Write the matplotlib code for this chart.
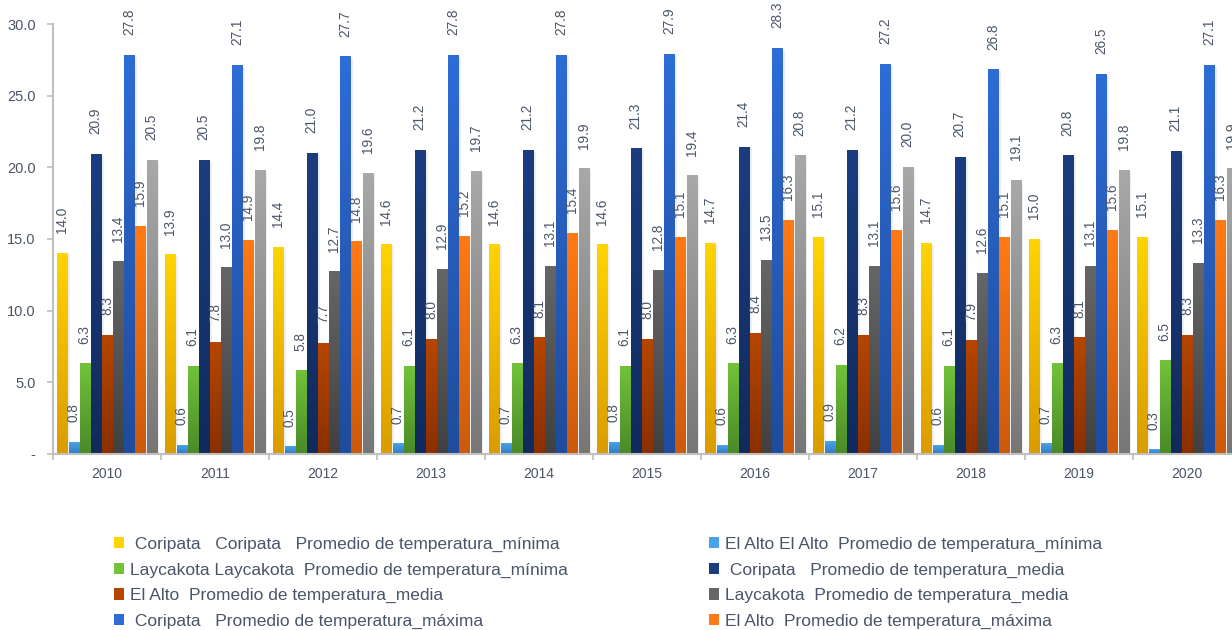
import numpy as np
import matplotlib.pyplot as plt
from matplotlib.colors import LinearSegmentedColormap
from matplotlib.patches import Rectangle
from matplotlib import patheffects as pe

years = ['2010', '2011', '2012', '2013', '2014', '2015', '2016', '2017', '2018', '2019', '2020']

coripata_min = [14.0, 13.9, 14.4, 14.6, 14.6, 14.6, 14.7, 15.1, 14.7, 15.0, 15.1]
elalto_min = [0.8, 0.6, 0.5, 0.7, 0.7, 0.8, 0.6, 0.9, 0.6, 0.7, 0.3]
laycakota_min = [6.3, 6.1, 5.8, 6.1, 6.3, 6.1, 6.3, 6.2, 6.1, 6.3, 6.5]
coripata_med = [20.9, 20.5, 21.0, 21.2, 21.2, 21.3, 21.4, 21.2, 20.7, 20.8, 21.1]
elalto_med = [8.3, 7.8, 7.7, 8.0, 8.1, 8.0, 8.4, 8.3, 7.9, 8.1, 8.3]
laycakota_med = [13.4, 13.0, 12.7, 12.9, 13.1, 12.8, 13.5, 13.1, 12.6, 13.1, 13.3]
coripata_max = [27.8, 27.1, 27.7, 27.8, 27.8, 27.9, 28.3, 27.2, 26.8, 26.5, 27.1]
elalto_max = [15.9, 14.9, 14.8, 15.2, 15.4, 15.1, 16.3, 15.6, 15.1, 15.6, 16.3]
laycakota_max = [20.5, 19.8, 19.6, 19.7, 19.9, 19.4, 20.8, 20.0, 19.1, 19.8, 19.9]

labels = [
    ' Coripata   Coripata   Promedio de temperatura_mínima',
    'El Alto El Alto  Promedio de temperatura_mínima',
    'Laycakota Laycakota  Promedio de temperatura_mínima',
    ' Coripata   Promedio de temperatura_media',
    'El Alto  Promedio de temperatura_media',
    'Laycakota  Promedio de temperatura_media',
    ' Coripata   Promedio de temperatura_máxima',
    'El Alto  Promedio de temperatura_máxima',
    'Laycakota  Promedio de temperatura_máxima',
]
series = [coripata_min, elalto_min, laycakota_min, coripata_med, elalto_med,
          laycakota_med, coripata_max, elalto_max, laycakota_max]

# (top colour, bottom colour) for each series gradient
colors = [
    ('#FFD400', '#DA9C00'),
    ('#4AA3E8', '#3478C0'),
    ('#72C23A', '#4A8A28'),
    ('#1B3D80', '#102A5C'),
    ('#B54600', '#8A3000'),
    ('#666666', '#414141'),
    ('#2E6CD6', '#1F4C9C'),
    ('#FF7A14', '#CC5A0C'),
    ('#A8A8A8', '#777777'),
]

text_col = '#4A5568'
plt.rcParams['font.family'] = ['Liberation Sans', 'DejaVu Sans']

fig = plt.figure(figsize=(12.32, 6.30), dpi=100)
ax = fig.add_axes([53 / 1232, 1 - 454 / 630, 1 - 53 / 1232, 430 / 630])

slot = 11.15 / 108
width = 10.1 / 108
x = np.arange(len(years))

for j, vals in enumerate(series):
    top, bottom = colors[j]
    cmap = LinearSegmentedColormap.from_list('g%d' % j, [bottom, top])
    grad = np.linspace(0, 1, 64).reshape(-1, 1)
    for i, v in enumerate(vals):
        xc = x[i] + (j - 4) * slot
        x0 = xc - width / 2
        # soft drop shadow under each bar
        shadow = Rectangle((x0, 0), width, v, facecolor='white', edgecolor='none', zorder=1,
                           path_effects=[pe.SimplePatchShadow(offset=(2, -1), shadow_rgbFace='#999999',
                                                              alpha=0.16)])
        ax.add_patch(shadow)
        ax.imshow(grad, extent=(x0, x0 + width, 0, v), aspect='auto', cmap=cmap,
                  origin='lower', zorder=2, interpolation='bilinear')
        ax.annotate('%.1f' % v, (xc, v), xytext=(0, 14.5), textcoords='offset points',
                    rotation=90, ha='center', va='bottom', fontsize=9.8, color=text_col,
                    annotation_clip=False)

ax.set_yticks([0, 5, 10, 15, 20, 25, 30])
ax.set_yticklabels(['-', '5.0', '10.0', '15.0', '20.0', '25.0', '30.0'])
ax.set_xticks(x)
ax.set_xticklabels(years)
ax.set_xticks(np.arange(-0.5, 11, 1), minor=True)
ax.tick_params(axis='x', which='major', length=0, pad=9, labelsize=10, labelcolor=text_col)
ax.tick_params(axis='x', which='minor', length=4, width=1.2, color='#BFBFBF')
ax.tick_params(axis='y', length=4, width=1.2, color='#BFBFBF', pad=8.5, labelsize=10.5,
               labelcolor=text_col)

# limits last, set_xticks would otherwise widen them
ax.set_xlim(-0.5, (1232 - 53) / 108 - 0.5)
ax.set_ylim(0, 30)

for s in ['top', 'right']:
    ax.spines[s].set_visible(False)
for s in ['left', 'bottom']:
    ax.spines[s].set_color('#BFBFBF')
    ax.spines[s].set_linewidth(1.5)

handles = []
for j in range(len(series)):
    top, bottom = colors[j]
    handles.append(Rectangle((0, 0), 1, 1, facecolor=top, edgecolor='none'))

leg_kw = dict(frameon=False, fontsize=12.5, handlelength=0.6, handleheight=0.6,
              handletextpad=0.35, labelspacing=0.6, borderpad=0, borderaxespad=0,
              labelcolor=text_col, loc='upper left')
left_idx = [0, 2, 4, 6]
right_idx = [1, 3, 5, 7]
fig.legend([handles[k] for k in left_idx], [labels[k] for k in left_idx],
           bbox_to_anchor=(114 / 1232, 1 - 537 / 630), **leg_kw)
fig.legend([handles[k] for k in right_idx], [labels[k] for k in right_idx],
           bbox_to_anchor=(709 / 1232, 1 - 537 / 630), **leg_kw)

fig.savefig('out.png', dpi=100)
